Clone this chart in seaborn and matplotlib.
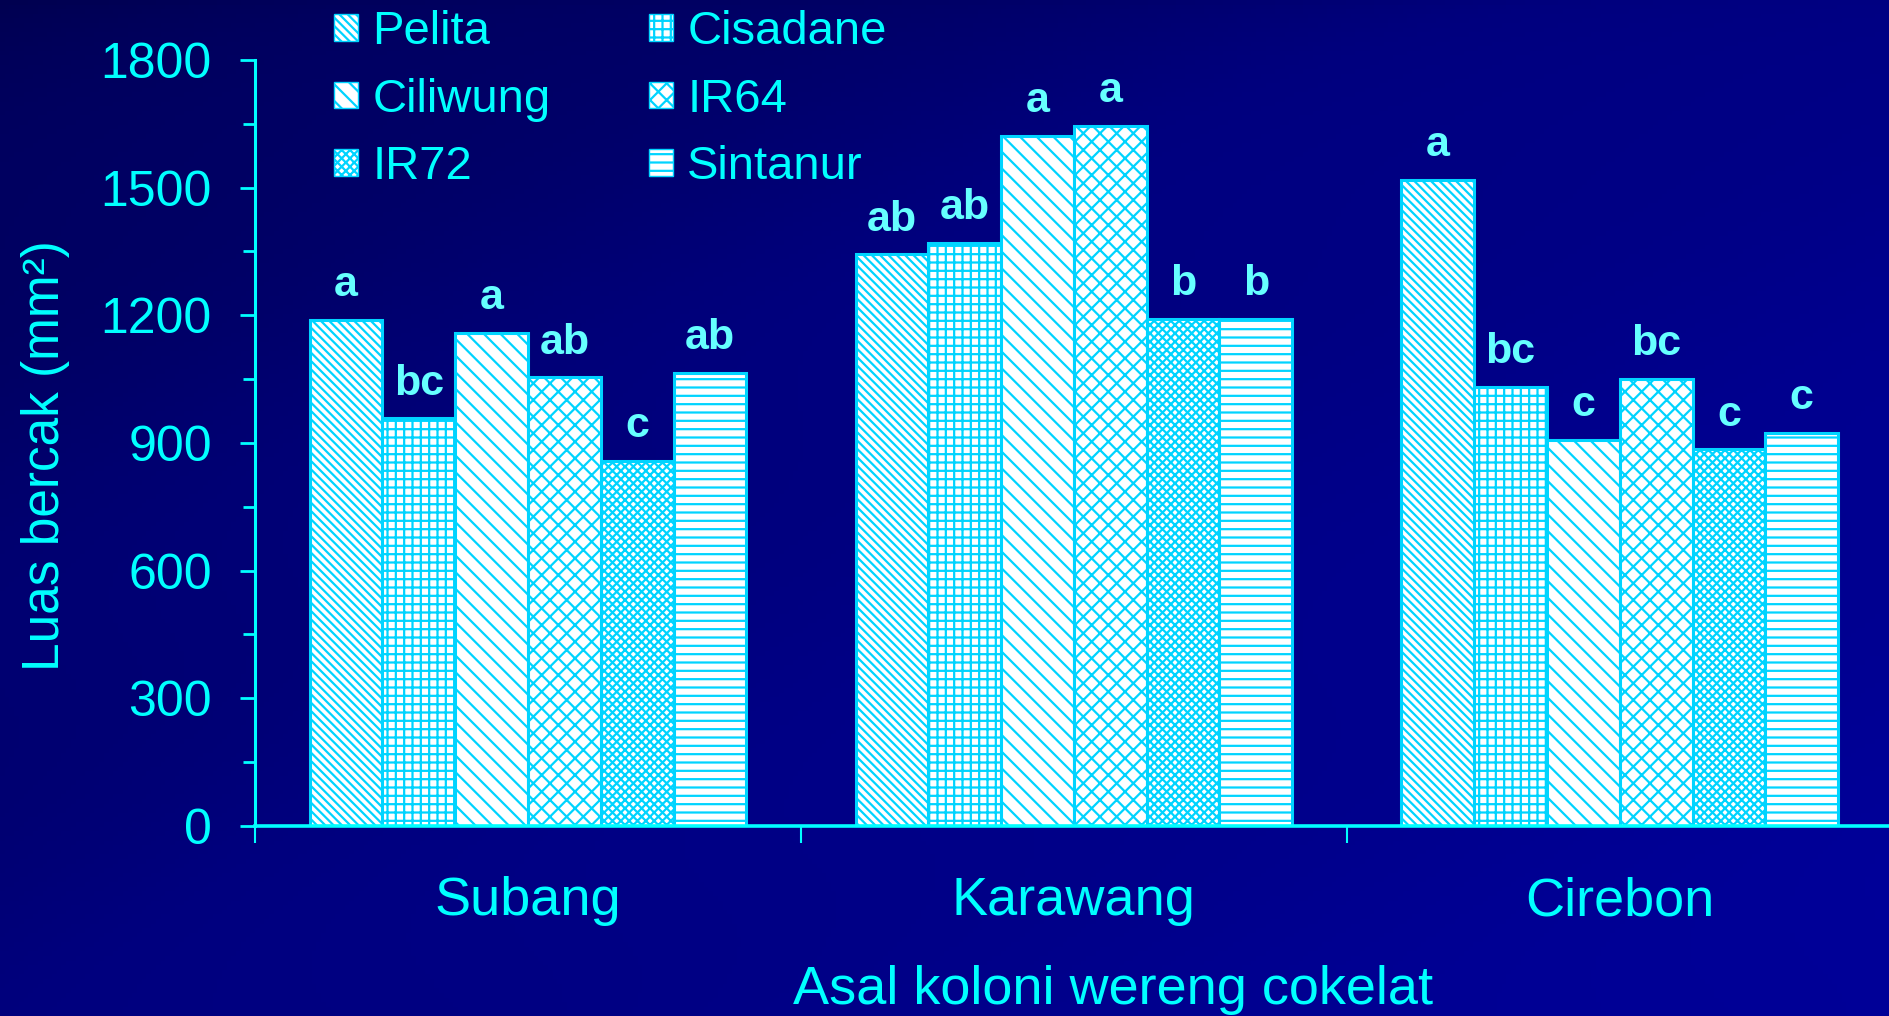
# Luas bercak per asal koloni wereng cokelat dan varietas padi

import numpy as np
import pandas as pd
import matplotlib.pyplot as plt
import seaborn as sns
from matplotlib.patches import Patch
from matplotlib.ticker import MultipleLocator

# Data
asal = ['Subang', 'Karawang', 'Cirebon']
varietas = ['Pelita', 'Cisadane', 'Ciliwung', 'IR64', 'IR72', 'Sintanur']
luas_subang = [1190, 958, 1158, 1054, 858, 1065]
luas_karawang = [1343, 1371, 1622, 1645, 1191, 1191]
luas_cirebon = [1518, 1032, 907, 1050, 885, 924]
notasi_subang = ['a', 'bc', 'a', 'ab', 'c', 'ab']
notasi_karawang = ['ab', 'ab', 'a', 'a', 'b', 'b']
notasi_cirebon = ['a', 'bc', 'c', 'bc', 'c', 'c']
y_ticks = [0, 300, 600, 900, 1200, 1500, 1800]

hatches = ['\\\\\\\\', '++', '\\\\', 'xx', 'xxxx', '--']

df = pd.DataFrame({
    'asal': np.repeat(asal, len(varietas)),
    'varietas': varietas * len(asal),
    'luas': luas_subang + luas_karawang + luas_cirebon,
})
notasi = [notasi_subang, notasi_karawang, notasi_cirebon]

sns.set_style('ticks')
plt.rcParams['font.family'] = ['Liberation Sans', 'DejaVu Sans']
plt.rcParams['hatch.linewidth'] = 1.6

cyan = '#00FFFF'
hatch_col = '#00D4FF'

fig = plt.figure(figsize=(18.89, 10.16), dpi=100)
fig.patch.set_facecolor('#000080')

# Latar belakang gradasi biru tua (gelap di kiri atas)
bg = fig.add_axes([0, 0, 1, 1])
gx, gy = np.meshgrid(np.linspace(0, 1, 400), np.linspace(0, 1, 220))
grad = 0.55 * gx + 0.45 * gy ** 0.6 + 0.03 * np.sin(gx * 9 + gy * 14)
bg.imshow(grad, cmap=sns.blend_palette(['#000050', '#00007E', '#000098'], as_cmap=True),
          aspect='auto', extent=[0, 1, 0, 1], origin='upper')
bg.axis('off')

ax = fig.add_axes([0.135, 0.187, 0.867, 0.754])
ax.set_facecolor('none')

sns.barplot(data=df, x='asal', y='luas', hue='varietas', order=asal, hue_order=varietas,
            palette=['white'] * len(varietas), saturation=1, edgecolor=hatch_col,
            linewidth=2.2, legend=False, ax=ax)

for cont, h in zip(ax.containers, hatches):
    for bar in cont:
        bar.set_hatch(h)

# Notasi huruf di atas batang
for i, cont in enumerate(ax.containers):
    for j, bar in enumerate(cont):
        ax.annotate(notasi[j][i], (bar.get_x() + bar.get_width() / 2, bar.get_height()),
                    xytext=(0, 25), textcoords='offset points', ha='center', va='center',
                    fontsize=31, fontweight='bold', color='#66FFFF')

ax.set_ylim(0, 1800)
ax.set_xlim(-0.5, 2.5)
ax.set_yticks(y_ticks)
ax.yaxis.set_minor_locator(MultipleLocator(150))
ax.set_xticks([-0.5, 0.5, 1.5])
ax.set_xticklabels(['', '', ''])
ax.set_xticks([0, 1, 2], minor=True)
ax.set_xticklabels(asal, minor=True)

ax.tick_params(axis='y', which='major', length=11, width=2, color=cyan, labelcolor=cyan,
               labelsize=36, pad=20)
ax.tick_params(axis='y', which='minor', length=9, width=2, color=cyan)
ax.tick_params(axis='x', which='major', length=12, width=1.5, color=cyan)
ax.tick_params(axis='x', which='minor', length=0, labelcolor=cyan, labelsize=39, pad=36)

for s in ['top', 'right']:
    ax.spines[s].set_visible(False)
ax.spines['left'].set_color(cyan)
ax.spines['left'].set_linewidth(2.2)
ax.spines['bottom'].set_color(cyan)
ax.spines['bottom'].set_linewidth(2.6)

ax.set_xlabel('Asal koloni wereng cokelat', fontsize=39, color=cyan, va='center')
ax.xaxis.set_label_coords(0.524, -0.214)
ax.set_ylabel('Luas bercak (mm²)', fontsize=37, color=cyan, va='center')
ax.yaxis.set_label_coords(-0.128, 0.484)

handles = [Patch(facecolor='white', edgecolor=hatch_col, hatch=h, label=v)
           for v, h in zip(varietas, hatches)]
# urutan baris: Pelita/Cisadane, Ciliwung/IR64, IR72/Sintanur
order = [0, 2, 4, 1, 3, 5]
fig.legend(handles=[handles[k] for k in order], loc='upper left', ncol=2,
           bbox_to_anchor=(0.177, 0.99), frameon=False, fontsize=34,
           labelcolor=cyan, handlelength=0.5, handleheight=0.5,
           handletextpad=0.3, columnspacing=2.1, labelspacing=0.5,
           borderpad=0, borderaxespad=0)

plt.savefig('out.png', dpi=100, facecolor=fig.get_facecolor())
